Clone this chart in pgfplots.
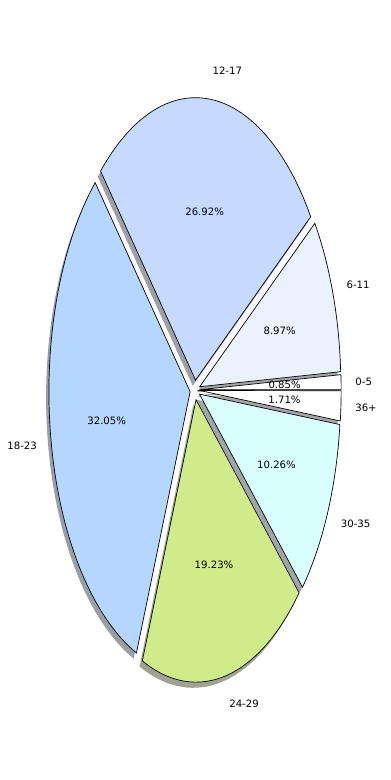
\documentclass[border=0pt]{standalone}
\usepackage{pgfplots}
\pgfplotsset{compat=1.18}
\usepackage{pgfplotstable}
\usepackage{fontspec}
\setmainfont{DejaVu Sans}
\definecolor{cA}{HTML}{FFFFFF}
\definecolor{cB}{HTML}{EBF2FF}
\definecolor{cC}{HTML}{C6D9FF}
\definecolor{cD}{HTML}{B4D6FF}
\definecolor{cE}{HTML}{D0EC8A}
\definecolor{cF}{HTML}{DAFFFF}
\definecolor{cG}{HTML}{FFFFFF}
\pgfplotstableread{
label pct col
0-5 0.85 cA
6-11 8.97 cB
12-17 26.92 cC
18-23 32.05 cD
24-29 19.23 cE
30-35 10.26 cF
36+ 1.71 cG
}\pietable
\begin{document}
\fontsize{7.3}{8.8}\selectfont
\begin{tikzpicture}
\begin{axis}[hide axis, scale only axis, width=280.8pt, height=561.6pt,
  xmin=-195, xmax=195, ymin=-390, ymax=390, clip=false]
\path (rel axis cs:0,0) rectangle (rel axis cs:1,1);
\def\rx{141.2}\def\ry{282.5}\def\ex{0.035}
\pgfmathsetmacro\RX{\rx*0.72}\pgfmathsetmacro\RY{\ry*0.72}
% shadows
\def\sA{0}
\pgfplotsforeachungrouped \i in {0,...,6}{%
  \pgfplotstablegetelem{\i}{pct}\of\pietable \let\pv\pgfplotsretval
  \pgfplotstablegetelem{\i}{col}\of\pietable \let\colv\pgfplotsretval
  \pgfmathsetmacro\tA{\sA+3.6*\pv}%
  \pgfmathsetmacro\mA{(\sA+\tA)/2}%
  \pgfmathsetmacro\cxv{\ex*\rx*cos(\mA)-0.02*\rx}%
  \pgfmathsetmacro\cyv{\ex*\ry*sin(\mA)-0.02*\ry}%
  \pgfmathsetmacro\pxv{\cxv+\rx*cos(\sA)}%
  \pgfmathsetmacro\pyv{\cyv+\ry*sin(\sA)}%
  \edef\cmd{\noexpand\fill[\colv!30!black, opacity=0.5] (axis cs:\cxv,\cyv) -- (axis cs:\pxv,\pyv) arc[start angle=\sA, end angle=\tA, x radius=\RX pt, y radius=\RY pt] -- cycle;}\cmd
  \let\sA\tA
}
% wedges and texts
\def\sA{0}
\pgfplotsforeachungrouped \i in {0,...,6}{%
  \pgfplotstablegetelem{\i}{pct}\of\pietable \let\pv\pgfplotsretval
  \pgfplotstablegetelem{\i}{col}\of\pietable \let\colv\pgfplotsretval
  \pgfplotstablegetelem{\i}{label}\of\pietable \let\labv\pgfplotsretval
  \pgfmathsetmacro\tA{\sA+3.6*\pv}%
  \pgfmathsetmacro\mA{(\sA+\tA)/2}%
  \pgfmathsetmacro\cxv{\ex*\rx*cos(\mA)}%
  \pgfmathsetmacro\cyv{\ex*\ry*sin(\mA)}%
  \pgfmathsetmacro\pxv{\cxv+\rx*cos(\sA)}%
  \pgfmathsetmacro\pyv{\cyv+\ry*sin(\sA)}%
  \pgfmathsetmacro\lxv{\cxv+1.1*\rx*cos(\mA)}%
  \pgfmathsetmacro\lyv{\cyv+1.1*\ry*sin(\mA)}%
  \pgfmathsetmacro\qxv{\cxv+0.6*\rx*cos(\mA)}%
  \pgfmathsetmacro\qyv{\cyv+0.6*\ry*sin(\mA)}%
  \pgfmathsetmacro\cm{cos(\mA)}%
  \ifdim\cm pt>0pt \def\anc{west}\else\def\anc{east}\fi
  \edef\cmd{\noexpand\filldraw[fill=\colv, draw=black, line width=0.5pt, line join=miter] (axis cs:\cxv,\cyv) -- (axis cs:\pxv,\pyv) arc[start angle=\sA, end angle=\tA, x radius=\RX pt, y radius=\RY pt] -- cycle;
  \noexpand\node[anchor=\anc, inner sep=0pt] at (axis cs:\lxv,\lyv) {\labv};
  \noexpand\node[inner sep=0pt] at (axis cs:\qxv,\qyv) {\pv\noexpand\%};}\cmd
  \let\sA\tA
}
\end{axis}
\end{tikzpicture}
\end{document}
